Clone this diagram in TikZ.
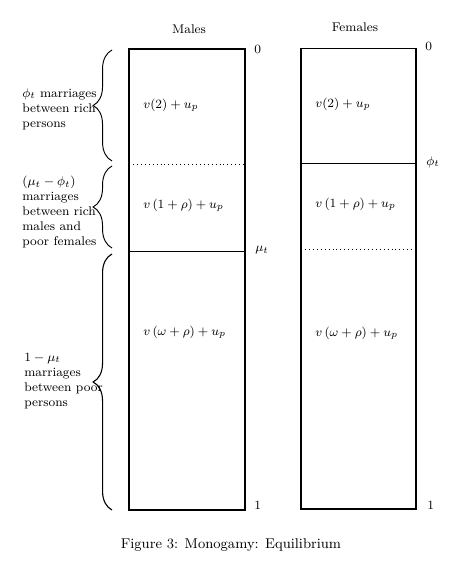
\documentclass[tikz,border=0pt]{standalone}
\usepackage{amsmath}
\usetikzlibrary{decorations.pathreplacing}

\tikzset{
  panel/.style={line width=1.1pt},
  cut/.style={line width=0.45pt},
  cutdot/.style={line width=0.5pt, dotted},
  curly/.style={decorate, decoration={brace, amplitude=12pt}, line width=0.6pt},
  lbl/.style={font=\footnotesize, align=left, anchor=west, inner sep=0pt},
  val/.style={font=\footnotesize, anchor=west, inner sep=0pt},
  tck/.style={font=\footnotesize, anchor=west, inner sep=0pt}
}

\begin{document}
\begin{tikzpicture}[x=0.635pt,y=-0.635pt]

	\useasboundingbox (0,0) rectangle (464,570);

	% column heads
	\node[font=\footnotesize] (males) at (189,29) {Males};
	\node[font=\footnotesize] (females) at (355,27) {Females};

	% the two columns
	\draw[panel] (129,49) rectangle (245,510);
	\draw[panel] (301,48.5) rectangle (416,509);

	\draw[cutdot] (129,164) -- (245,164);
	\draw[cut] (129,251) -- (245,251);
	\draw[cut] (301,163) -- (416,163);
	\draw[cutdot] (301,249.5) -- (416,249.5);

	% values
	\node[val] (mrich) at (143,105) {$v(2)+u_p$};
	\node[val] (mmix) at (143,205) {$v\,(1+\rho)+u_p$};
	\node[val] (mpoor) at (143,332) {$v\,(\omega+\rho)+u_p$};
	\node[val] (frich) at (315,104) {$v(2)+u_p$};
	\node[val] (fmix) at (315,204) {$v\,(1+\rho)+u_p$};
	\node[val] (fpoor) at (315,333) {$v\,(\omega+\rho)+u_p$};

	% ticks
	\node[tck] (mzero) at (254,49) {0};
	\node[tck] (mmu) at (255,250) {$\mu_t$};
	\node[tck] (mone) at (254,505) {1};
	\node[tck] (fzero) at (425,46) {0};
	\node[tck] (fphi) at (426,162) {$\phi_t$};
	\node[tck] (fone) at (427,505) {1};

	% braces
	\coordinate (b1top) at (112,50);
	\coordinate (b1bot) at (112,161);
	\coordinate (b2top) at (112,166);
	\coordinate (b2bot) at (112,248);
	\coordinate (b3top) at (112,254);
	\coordinate (b3bot) at (112,510);
	\draw[curly] (b1bot) -- (b1top);
	\draw[curly] (b2bot) -- (b2top);
	\draw[curly, line width=0.7pt] (b3bot) -- (b3top);

	\node[lbl] (grich) at (22,109) {$\phi_t$ marriages\\between rich\\persons};
	\node[lbl] (gmix) at (22,212) {$(\mu_t-\phi_t)$\\marriages\\between rich\\males and\\poor females};
	\node[lbl] (gpoor) at (24,381) {$1-\mu_t$\\marriages\\between poor\\persons};

	\node[font=\small] (cap) at (231,545) {Figure 3: Monogamy: Equilibrium};

\end{tikzpicture}
\end{document}
